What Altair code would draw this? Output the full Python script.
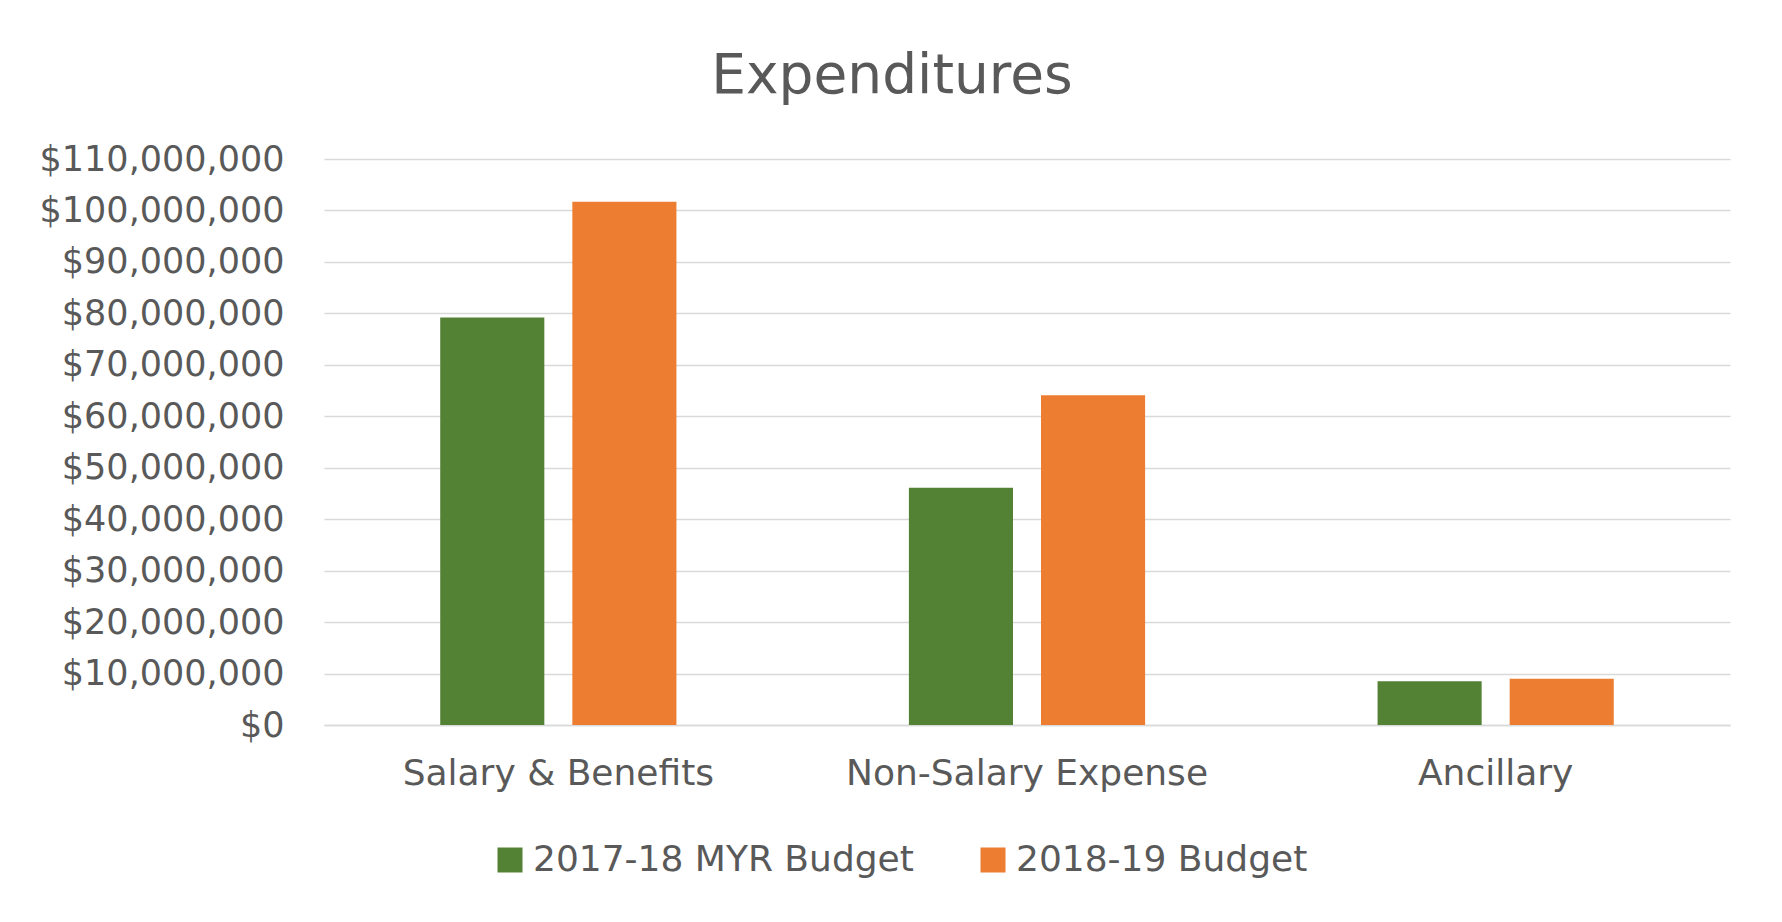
import altair as alt
import pandas as pd

categories = ["Salary & Benefits", "Non-Salary Expense", "Ancillary"]
series = ["2017-18 MYR Budget", "2018-19 Budget"]
values_2017 = [79200000, 46100000, 8500000]
values_2018 = [101700000, 64100000, 9000000]
colors = ["#548235", "#ED7D31"]

rows = []
for i, c in enumerate(categories):
    rows.append({"category": c, "series": series[0], "value": values_2017[i]})
    rows.append({"category": c, "series": series[1], "value": values_2018[i]})
df = pd.DataFrame(rows)

FONT = "DejaVu Sans"

chart = alt.Chart(df).mark_bar().encode(
    x=alt.X("category:N", sort=categories, title=None,
            scale=alt.Scale(paddingInner=0.496, paddingOuter=0.248),
            axis=alt.Axis(labelAngle=0, labelFontSize=36, labelColor="#595959",
                          labelFont=FONT, labelPadding=31, ticks=False, labelLimit=0,
                          domainColor="#d9d9d9", domainWidth=1.5, grid=False)),
    xOffset=alt.XOffset("series:N", sort=series,
                        scale=alt.Scale(paddingInner=0.212, paddingOuter=0)),
    y=alt.Y("value:Q", title=None,
            scale=alt.Scale(domain=[0, 110000000], nice=False),
            axis=alt.Axis(values=list(range(0, 110000001, 10000000)),
                          format="$,.0f", labelFontSize=35, labelColor="#595959",
                          labelFont=FONT, labelPadding=40, ticks=False, domain=False,
                          labelLimit=0, gridColor="#d9d9d9", gridWidth=1.5)),
    color=alt.Color("series:N", sort=series,
                    scale=alt.Scale(domain=series, range=colors),
                    legend=alt.Legend(title=None, orient="none", legendX=168, legendY=683,
                                      direction="horizontal", symbolType="square",
                                      symbolSize=625, symbolStrokeWidth=0,
                                      labelFontSize=36, labelFont=FONT, labelLimit=0,
                                      labelColor="#595959", columnPadding=61,
                                      labelOffset=5)),
).properties(
    width=1406, height=566,
    title=alt.TitleParams("Expenditures", fontSize=55, font=FONT, fontWeight="normal",
                          color="#595959", anchor="middle", offset=37, dx=-135),
    autosize=alt.AutoSizeParams(type="none"),
    padding={"left": 316, "top": 151, "right": 44, "bottom": 189},
).configure_view(stroke=None)

chart.save("out.html", embed_options={"renderer": "svg", "actions": False})
